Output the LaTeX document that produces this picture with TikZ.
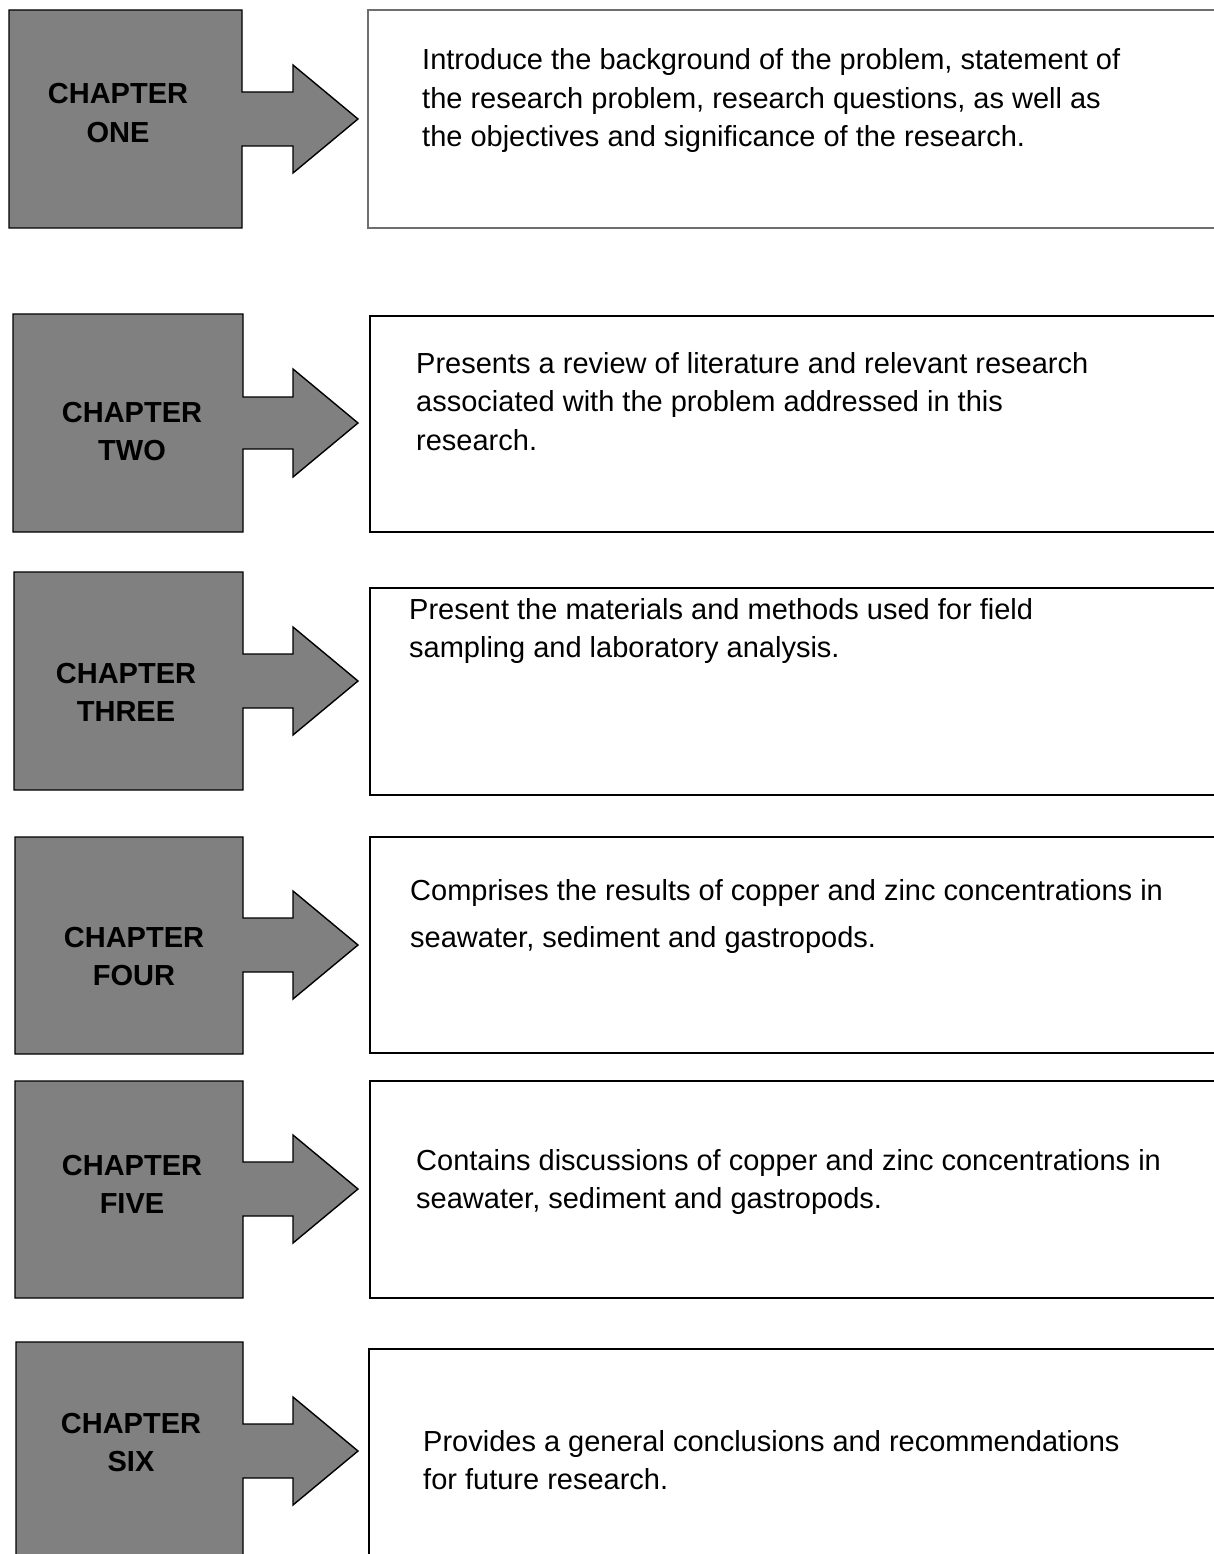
\documentclass[tikz,border=0pt]{standalone}
\usepackage{fontspec}
\setmainfont{Liberation Sans}

\definecolor{chapgray}{RGB}{128,128,128}
\definecolor{framegray}{RGB}{110,110,110}

\begin{document}
\begin{tikzpicture}[x=1pt,y=-1pt,
  chap shape/.style={draw=black,fill=chapgray,line width=1.4pt,line join=miter},
  text box/.style={draw=black,line width=1.4pt},
  chap label/.style={font=\fontsize{29}{38.5}\selectfont\bfseries,align=center,anchor=base,inner sep=0pt},
  desc text/.style={font=\fontsize{29}{38.5}\selectfont,align=left,anchor=base west,inner sep=0pt}]
  \clip (0,0) rectangle (1214,1554);

  % chapter one (labels sit on the baseline of their last line)
  \draw[chap shape] (9,10) -- (242,10) -- (242,92) -- (293,92) -- (293,65) -- (358,119)
    -- (293,173) -- (293,146) -- (242,146) -- (242,228) -- (9,228) -- cycle;
  \draw[text box,draw=framegray] (368,10) rectangle (1240,228);
  \node[chap label] (chap1) at (118,142.5) {CHAPTER\\ONE};
  \node[desc text] (desc1) at (422,147) {Introduce the background of the problem, statement of\\
    the research problem, research questions, as well as\\
    the objectives and significance of the research.};

  % chapter two
  \draw[chap shape] (13,314) -- (243,314) -- (243,397) -- (293,397) -- (293,369) -- (358,423)
    -- (293,477) -- (293,449) -- (243,449) -- (243,532) -- (13,532) -- cycle;
  \draw[text box] (370,316) rectangle (1240,532);
  \node[chap label] (chap2) at (132,460.5) {CHAPTER\\TWO};
  \node[desc text] (desc2) at (416,450) {Presents a review of literature and relevant research\\
    associated with the problem addressed in this\\
    research.};

  % chapter three
  \draw[chap shape] (14,572) -- (243,572) -- (243,654) -- (293,654) -- (293,627) -- (358,681)
    -- (293,735) -- (293,708) -- (243,708) -- (243,790) -- (14,790) -- cycle;
  \draw[text box] (370,588) rectangle (1240,795);
  \node[chap label] (chap3) at (126,721.5) {CHAPTER\\THREE};
  \node[desc text] (desc3) at (409,657.5) {Present the materials and methods used for field\\
    sampling and laboratory analysis.};

  % chapter four
  \draw[chap shape] (15,837) -- (243,837) -- (243,918) -- (293,918) -- (293,891) -- (358,945)
    -- (293,999) -- (293,972) -- (243,972) -- (243,1054) -- (15,1054) -- cycle;
  \draw[text box] (370,837) rectangle (1240,1053);
  \node[chap label] (chap4) at (134,985.5) {CHAPTER\\FOUR};
  \node[desc text] (desc4) at (410,947.5) {Comprises the results of copper and zinc concentrations in\\[9pt]
    seawater, sediment and gastropods.};

  % chapter five
  \draw[chap shape] (15,1081) -- (243,1081) -- (243,1162) -- (293,1162) -- (293,1135) -- (358,1189)
    -- (293,1243) -- (293,1216) -- (243,1216) -- (243,1298) -- (15,1298) -- cycle;
  \draw[text box] (370,1081) rectangle (1240,1298);
  \node[chap label] (chap5) at (132,1213.5) {CHAPTER\\FIVE};
  \node[desc text] (desc5) at (416,1208.5) {Contains discussions of copper and zinc concentrations in\\
    seawater, sediment and gastropods.};

  % chapter six
  \draw[chap shape] (16,1342) -- (243,1342) -- (243,1424) -- (293,1424) -- (293,1397) -- (358,1451)
    -- (293,1505) -- (293,1478) -- (243,1478) -- (243,1600) -- (16,1600) -- cycle;
  \draw[text box] (369,1349) rectangle (1240,1600);
  \node[chap label] (chap6) at (131,1471.5) {CHAPTER\\SIX};
  \node[desc text] (desc6) at (423,1489.5) {Provides a general conclusions and recommendations\\
    for future research.};
\end{tikzpicture}
\end{document}
